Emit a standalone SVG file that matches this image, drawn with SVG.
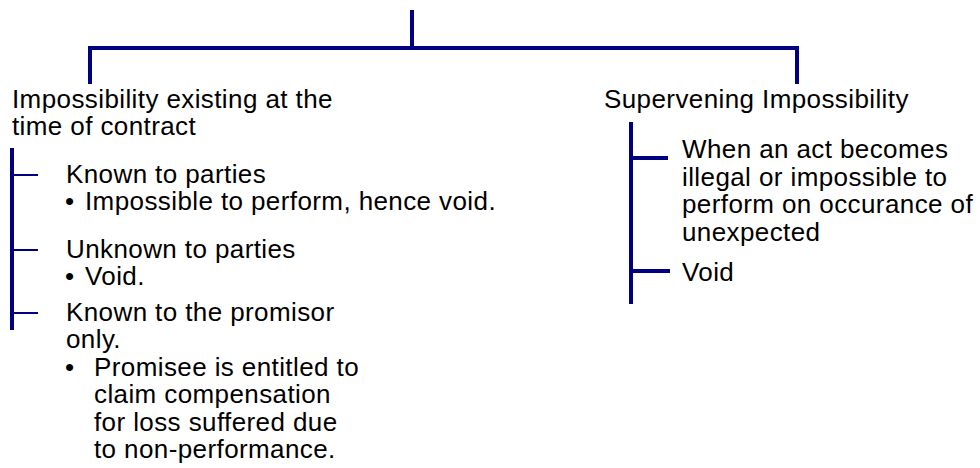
<svg xmlns="http://www.w3.org/2000/svg" width="980" height="468" viewBox="0 0 980 468">
<style>
text{font-family:"Liberation Sans",Arial,sans-serif;font-size:26px;fill:#000;letter-spacing:0.4px}
.c{stroke:#000080;fill:none;stroke-width:4}
.t{stroke:#000080;fill:none;stroke-width:2}
</style>
<rect width="980" height="468" fill="#fff"/>
<g id="connectors">
<path class="c" d="M412 10V48M88 48H799M90 48V84M797 48V84"/>
<path class="c" d="M12 148V330"/>
<path class="t" d="M12 175H38M12 250H38M12 313H38"/>
<path class="c" d="M631 122V304M631 158H668M631 271H670"/>
</g>
<g id="left">
<text x="12" y="108">Impossibility existing at the</text>
<text x="12" y="135">time of contract</text>
</g>
<g id="left-known">
<text x="66" y="183">Known to parties</text>
<text x="65" y="210">•</text>
<text x="85" y="210">Impossible to perform, hence void.</text>
</g>
<g id="left-unknown">
<text x="66" y="258">Unknown to parties</text>
<text x="65" y="285">•</text>
<text x="85" y="285">Void.</text>
</g>
<g id="left-promisor">
<text x="66" y="321">Known to the promisor</text>
<text x="66" y="348">only.</text>
<text x="65" y="376">•</text>
<text x="94" y="376">Promisee is entitled to</text>
<text x="94" y="403">claim compensation</text>
<text x="94" y="431">for loss suffered due</text>
<text x="94" y="458">to non-performance.</text>
</g>
<g id="right">
<text x="604" y="108">Supervening Impossibility</text>
</g>
<g id="right-act">
<text x="682" y="158">When an act becomes</text>
<text x="682" y="186">illegal or impossible to</text>
<text x="682" y="213">perform on occurance of</text>
<text x="682" y="241">unexpected</text>
</g>
<g id="right-void">
<text x="682" y="281">Void</text>
</g>
</svg>
